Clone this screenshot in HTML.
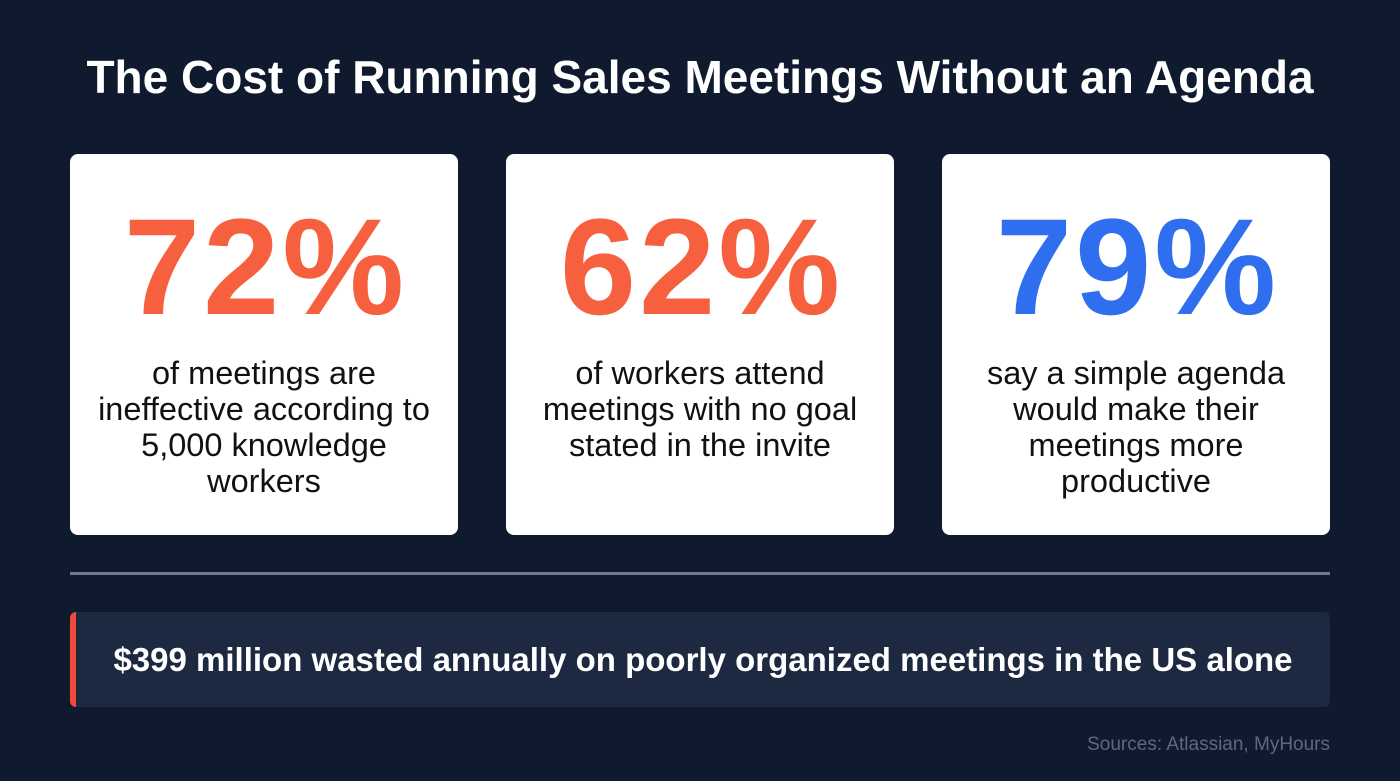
<!DOCTYPE html>
<html><head><meta charset="utf-8"><style>
body{margin:0;width:1400px;height:781px;background:#101a2f;font-family:"Liberation Sans",sans-serif;position:relative;overflow:hidden}
.t{position:absolute;left:0;width:1400px;top:50px;text-align:center;color:#fff;font-weight:bold;font-size:46px;line-height:54px}
.card{position:absolute;top:154px;width:388px;height:381px;background:#fff;border-radius:8px;text-align:center}
.num{position:absolute;left:0;right:0;font-weight:bold;font-size:137px;line-height:150px;letter-spacing:3px;text-indent:3px}
.card .num{top:39px}
.desc{position:absolute;left:0;right:0;top:201px;font-size:32.5px;line-height:36px;color:#111}
.sep{position:absolute;left:70px;width:1260px;top:572px;height:3px;background:#6c7a90}
.banner{position:absolute;left:70px;top:612px;width:1260px;height:95px;background:#1d2940;border-radius:6px;overflow:hidden}
.bar{position:absolute;left:0;top:0;width:6px;height:95px;background:#ef4a3a}
.bt{position:absolute;left:0;right:0;top:29px;text-align:center;color:#fff;font-weight:bold;font-size:33px;line-height:38px;padding-left:6px}
.src{position:absolute;right:70px;top:734px;color:#5d6880;font-size:19px}
</style></head><body>
<div class="t">The Cost of Running Sales Meetings Without an Agenda</div>
<div class="card" style="left:70px">
<div class="num" style="color:#f7603f">72%</div>
<div class="desc">of meetings are<br>ineffective according to<br>5,000 knowledge<br>workers</div></div>
<div class="card" style="left:506px">
<div class="num" style="color:#f7603f">62%</div>
<div class="desc">of workers attend<br>meetings with no goal<br>stated in the invite</div></div>
<div class="card" style="left:942px">
<div class="num" style="color:#2f6fef">79%</div>
<div class="desc">say a simple agenda<br>would make their<br>meetings more<br>productive</div></div>
<div class="sep"></div>
<div class="banner"><div class="bar"></div>
<div class="bt">$399 million wasted annually on poorly organized meetings in the US alone</div></div>
<div class="src">Sources: Atlassian, MyHours</div>
</body></html>
